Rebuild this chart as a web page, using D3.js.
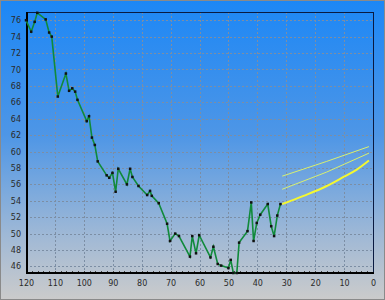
<!DOCTYPE html>
<html>
<head>
<meta charset="utf-8">
<script src="https://cdn.jsdelivr.net/npm/d3@7"></script>
<style>
  html, body { margin: 0; padding: 0; background: #c8c8c8; }
  svg { display: block; }
</style>
</head>
<body>
<svg id="chart"></svg>
<script>
// set svg params
var svgWidth = 385, svgHeight = 300;
var plotLeft = 26, plotRight = 373, plotTop = 12, plotBottom = 273;

// measured series (x counts down from 120 to 0)
var histX = [120, 118.2, 117, 116.1, 113.2, 112, 111.1, 109, 106.2, 105.1, 104, 103, 102.2,
  99, 98.2, 97.2, 96.2, 95.2, 92.1, 91.2, 90.1, 89, 88.1, 85.1, 84, 83.2, 81.1, 78.1, 77.1,
  76.5, 74.1, 71.2, 70.2, 68.4, 67.1, 63.3, 62.5, 61.2, 60.1, 56.2, 55.2, 53.7, 52.5, 50,
  49.2, 48.3, 47.1, 46.3, 43.4, 42.1, 41.3, 40.2, 39, 36.4, 35.2, 34.2, 33.1, 32];
var histY = [76.0, 74.6, 75.8, 76.9, 76.1, 74.5, 74.0, 66.7, 69.5, 67.4, 67.7, 67.3, 66.3,
  63.7, 64.3, 61.7, 60.8, 58.8, 57.1, 56.8, 57.4, 55.1, 57.9, 56.0, 57.9, 56.9, 55.8, 54.7, 55.2,
  54.6, 53.7, 51.2, 49.1, 50.0, 49.7, 47.2, 49.7, 47.6, 49.8, 47.1, 48.4, 46.3, 46.1, 45.8,
  46.8, 45.2, 45.2, 48.9, 50.3, 53.8, 49.1, 51.3, 52.3, 53.6, 50.9, 49.7, 52.2, 53.6];

// forecast line and its two bands
var fcX = [31.4, 24, 16, 10.2, 5.6, 1.4];
var fcY = [53.6, 54.6, 55.8, 56.9, 57.8, 58.9];
var bandX = [31.4, 16, 1.4];
var bandLow = [55.4, 57.5, 59.8];
var bandHigh = [57.0, 58.8, 60.6];

// tick labels
var xTicks = [120, 110, 100, 90, 80, 70, 60, 50, 40, 30, 20, 10, 0];
var yTicks = [46, 48, 50, 52, 54, 56, 58, 60, 62, 64, 66, 68, 70, 72, 74, 76];

var xScale = d3.scaleLinear().domain([120, 0]).range([plotLeft, plotRight]);
var yScale = d3.scaleLinear().domain([45.2, 77]).range([plotBottom, plotTop]);

var svg = d3.select("#chart")
    .attr("width", svgWidth)
    .attr("height", svgHeight);

// background gradient
var grad = svg.append("defs").append("linearGradient")
    .attr("id", "bg").attr("x1", 0).attr("y1", 0).attr("x2", 0).attr("y2", 1);
grad.append("stop").attr("offset", 0).attr("stop-color", "#1c87f6");
grad.append("stop").attr("offset", 0.45).attr("stop-color", "#4e96e6");
grad.append("stop").attr("offset", 0.78).attr("stop-color", "#9eb8d6");
grad.append("stop").attr("offset", 1).attr("stop-color", "#cbcbcb");

svg.append("rect")
    .attr("x", 0.5).attr("y", 0.5)
    .attr("width", svgWidth - 1).attr("height", svgHeight - 1)
    .attr("fill", "url(#bg)")
    .attr("stroke", "#8a8a8a");

// grid
svg.append("g")
    .selectAll("line")
    .data(yTicks)
    .enter().append("line")
    .attr("x1", plotLeft).attr("x2", plotRight)
    .attr("y1", function (d) { return Math.round(yScale(d)) + 0.5; })
    .attr("y2", function (d) { return Math.round(yScale(d)) + 0.5; })
    .attr("stroke", "#7c8ea4")
    .attr("stroke-dasharray", "2,2");

svg.append("g")
    .selectAll("line")
    .data(xTicks.filter(function (d) { return d > 0 && d < 120; }))
    .enter().append("line")
    .attr("y1", plotTop).attr("y2", plotBottom)
    .attr("x1", function (d) { return Math.round(xScale(d)) + 0.5; })
    .attr("x2", function (d) { return Math.round(xScale(d)) + 0.5; })
    .attr("stroke", "#7c8ea4")
    .attr("stroke-dasharray", "2,2");

// axes
var xAxis = svg.append("g")
    .attr("transform", "translate(0," + (plotBottom + 3) + ")")
    .call(d3.axisBottom(xScale).tickValues(xTicks).tickSize(0).tickPadding(4));
var yAxis = svg.append("g")
    .attr("transform", "translate(" + (plotLeft - 4) + ",0)")
    .call(d3.axisLeft(yScale).tickValues(yTicks).tickSize(0).tickPadding(1));
[xAxis, yAxis].forEach(function (a) {
  a.select(".domain").remove();
  a.selectAll("text")
    .attr("font-family", "DejaVu Sans, Verdana, sans-serif")
    .attr("font-size", 8)
    .attr("fill", "#2a2a2a");
});

// minor ticks along the bottom
svg.append("g")
    .selectAll("line")
    .data(d3.range(2, 120, 2))
    .enter().append("line")
    .attr("x1", function (d) { return Math.round(xScale(d)) + 0.5; })
    .attr("x2", function (d) { return Math.round(xScale(d)) + 0.5; })
    .attr("y1", plotBottom - 2).attr("y2", plotBottom)
    .attr("stroke", "#444");

// plot frame
svg.append("rect")
    .attr("x", plotLeft + 0.5).attr("y", plotTop + 0.5)
    .attr("width", plotRight - plotLeft).attr("height", plotBottom - plotTop)
    .attr("fill", "none").attr("stroke", "#0a1a40");
svg.append("path")
    .attr("d", "M" + (plotLeft + 1) + "," + plotTop + "V" + plotBottom + "H" + (plotRight + 1))
    .attr("fill", "none").attr("stroke", "#000").attr("stroke-width", 2);

// band lines
var bandLine = d3.line()
    .x(function (d, i) { return xScale(bandX[i]); })
    .y(function (d) { return yScale(d); });
[bandHigh, bandLow].forEach(function (b) {
  svg.append("path")
      .attr("d", bandLine(b))
      .attr("fill", "none")
      .attr("stroke", "#d8f070")
      .attr("stroke-width", 1);
});

// forecast
svg.append("path")
    .attr("d", d3.line()
      .x(function (d, i) { return xScale(fcX[i]); })
      .y(function (d) { return yScale(d); })
      .curve(d3.curveMonotoneX)(fcY))
    .attr("fill", "none")
    .attr("stroke", "#f4f830")
    .attr("stroke-width", 2);

// measured line
var histLine = d3.line()
    .x(function (d, i) { return xScale(histX[i]); })
    .y(function (d) { return yScale(d); });
svg.append("path")
    .attr("d", histLine(histY))
    .attr("fill", "none")
    .attr("stroke", "#108a3a")
    .attr("stroke-width", 1.6);

svg.append("g")
    .selectAll("rect")
    .data(histY)
    .enter().append("rect")
    .attr("x", function (d, i) { return xScale(histX[i]) - 1.25; })
    .attr("y", function (d) { return yScale(d) - 1.25; })
    .attr("width", 2.5).attr("height", 2.5)
    .attr("fill", "#111");
</script>
</body>
</html>
